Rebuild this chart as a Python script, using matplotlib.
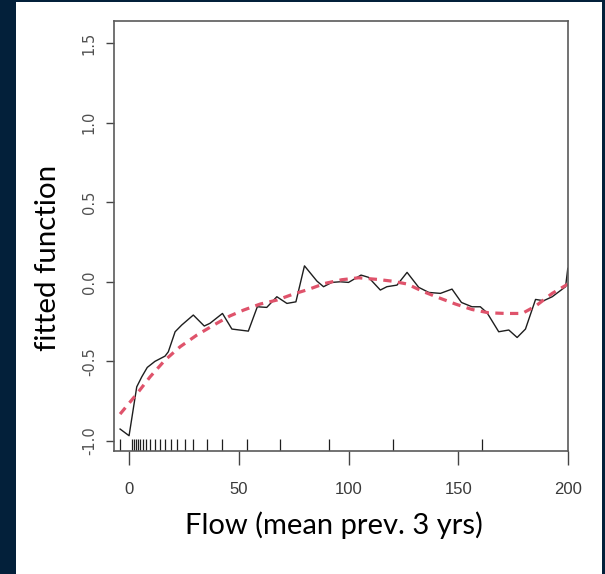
import matplotlib
matplotlib.use('Agg')
import matplotlib.pyplot as plt
from matplotlib import font_manager
from matplotlib.patches import Rectangle

# black fitted curve
flow_x = [-4.2, -0.1, 3.4, 5.7, 8.2, 11.7, 16.3, 17.8, 20.9, 23.9, 29.2, 34.2, 36.8,
          42.5, 46.8, 54.3, 58.4, 62.7, 67.3, 71.9, 76.0, 79.9, 85.6, 88.6, 92.4,
          96.2, 100.0, 105.7, 109.1, 114.5, 117.5, 122.1, 126.7, 132.0, 136.6,
          141.9, 147.2, 151.5, 156.3, 160.1, 163.2, 168.5, 173.1, 176.9, 180.7,
          185.3, 189.0, 192.9, 199.0, 200.0]
fitted_y = [-0.925, -0.967, -0.66, -0.597, -0.538, -0.50, -0.467, -0.44, -0.314,
            -0.272, -0.209, -0.278, -0.261, -0.199, -0.297, -0.31, -0.157, -0.161,
            -0.094, -0.136, -0.126, 0.10, 0.004, -0.031, -0.004, 0.0, -0.004, 0.042,
            0.028, -0.052, -0.031, -0.021, 0.059, -0.035, -0.067, -0.073, -0.046,
            -0.13, -0.157, -0.157, -0.195, -0.314, -0.303, -0.35, -0.297, -0.111,
            -0.119, -0.094, -0.031, 0.084]

# red dashed smooth
smooth_x = [-4.2, 3.4, 9.5, 16.3, 23.2, 30.8, 39.9, 46.0, 52.1, 59.7, 67.3, 74.9,
            81.7, 89.3, 97.0, 104.6, 113.0, 119.8, 126.7, 134.3, 141.1, 148.8,
            156.3, 163.9, 171.6, 179.2, 185.3, 192.9, 200.0]
smooth_y = [-0.831, -0.705, -0.597, -0.492, -0.408, -0.335, -0.261, -0.214, -0.178,
            -0.14, -0.115, -0.077, -0.048, -0.010, 0.013, 0.025, 0.015, 0.004,
            -0.014, -0.063, -0.10, -0.14, -0.174, -0.195, -0.199, -0.199, -0.153,
            -0.073, -0.015]

# rug of observed flows
rug_x = [-4.2, 1.3, 2.2, 3.1, 4.0, 5.0, 6.2, 7.8, 9.6, 11.6, 13.8, 16.2, 18.8, 21.8,
         25.3, 29.2, 35.4, 42.4, 53.6, 68.8, 91.0, 120.2, 160.8]

x_ticks = [0, 50, 100, 150, 200]
y_ticks = [-1.0, -0.5, 0.0, 0.5, 1.0, 1.5]
y_tick_labels = ['-1.0', '-0.5', '0.0', '0.5', '1.0', '1.5']

names = {f.name for f in font_manager.fontManager.ttflist}
narrow = 'Liberation Sans Narrow' if 'Liberation Sans Narrow' in names else 'Liberation Sans'

W, H = 605, 574
fig = plt.figure(figsize=(W / 100, H / 100), dpi=100, facecolor='#03203a')
# white slide panel, behind everything
fig.patches.append(Rectangle((16 / W, 0), 586 / W, 572 / H, transform=fig.transFigure,
                             facecolor='white', edgecolor='none', zorder=-10))

ax = fig.add_axes([113.5 / W, 1 - 451 / H, (568 - 113.5) / W, (451 - 21) / H])
ax.set_facecolor('white')

ax.plot(flow_x, fitted_y, color='#1e1e1e', lw=1.0)
ax.plot(smooth_x, smooth_y, color='#DF536B', lw=2.3, linestyle=(0, (2.6, 2.0)))
ax.vlines(rug_x, 0, 0.029, transform=ax.get_xaxis_transform(), color='#1e1e1e', lw=0.9)

ax.set_xlim(-7.2, 200.1)
ax.set_ylim(-1.063, 1.638)

ax.set_xticks(x_ticks)
ax.set_xticklabels([str(v) for v in x_ticks], fontfamily=narrow, fontsize=12, color='#3a3a3a')
ax.set_yticks(y_ticks)
ax.set_yticklabels(y_tick_labels, fontfamily='DejaVu Sans', fontsize=10.5, color='#505050',
                   rotation=90, va='center')
ax.tick_params(axis='x', direction='out', length=10, width=1, color='#444444', pad=12)
ax.tick_params(axis='y', direction='out', length=6, width=1, color='#444444', pad=6)

for sp in ax.spines.values():
    sp.set_color('#5a5a5a')
    sp.set_linewidth(1.2)

# axis titles in slide font, fitted to measured widths
xl = fig.text(334 / W, 1 - 525 / H, 'Flow (mean prev. 3 yrs)', family='Lato',
              fontsize=20, ha='center', va='center', color='black')
yl = fig.text(48.5 / W, 1 - 258 / H, 'fitted function', family='Lato',
              fontsize=20, ha='center', va='center', rotation=90, color='black')
fig.canvas.draw()
r = fig.canvas.get_renderer()
xl.set_fontsize(20 * 298 / xl.get_window_extent(r).width)
yl.set_fontsize(20 * 187 / yl.get_window_extent(r).height)

fig.savefig('out.png', dpi=100, facecolor=fig.get_facecolor())
